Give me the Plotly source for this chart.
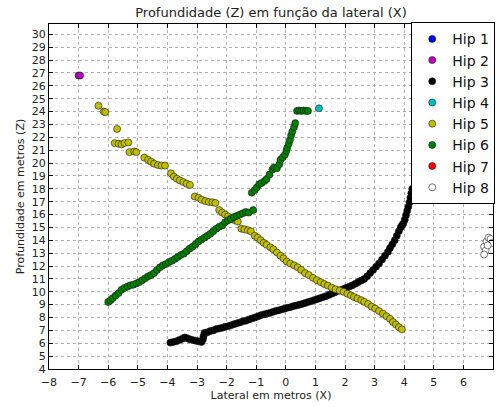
import plotly.graph_objects as go

# ---------------- data ----------------
hip1_x = [None]
hip1_y = [None]

hip2_x = [-7.00, -6.95]
hip2_y = [26.80, 26.80]

hip3_x = [-3.90, -3.80, -3.70, -3.60, -3.50, -3.42, -3.35, -3.25, -3.15, -3.05,
          -2.95, -2.85, -2.80, -2.78, -2.75, -2.65, -2.55, -2.45, -2.35, -2.25,
          -2.15, -2.05, -1.95, -1.85, -1.75, -1.65, -1.55, -1.45, -1.35, -1.25,
          -1.15, -1.05, -0.95, -0.85, -0.75, -0.65, -0.55, -0.45, -0.35, -0.25,
          -0.15, -0.05, 0.05, 0.15, 0.25, 0.35, 0.45, 0.55, 0.65, 0.75,
          0.85, 0.95, 1.05, 1.15, 1.25, 1.35, 1.45, 1.55, 1.65, 1.75,
          1.85, 1.95, 2.05, 2.15, 2.25, 2.35, 2.45, 2.55, 2.65, 2.75,
          2.85, 2.95, 3.05, 3.15, 3.25, 3.35, 3.45, 3.52, 3.60, 3.68,
          3.75, 3.82, 3.88, 3.92, 3.97, 4.02, 4.06, 4.10, 4.14, 4.18,
          4.21, 4.24, 4.27]
hip3_y = [6.05, 6.10, 6.15, 6.25, 6.35, 6.45, 6.40, 6.32, 6.25, 6.20,
          6.15, 6.10, 6.30, 6.55, 6.80, 6.85, 6.95, 7.00, 7.10, 7.15,
          7.20, 7.28, 7.33, 7.40, 7.48, 7.55, 7.62, 7.70, 7.75, 7.85,
          7.92, 8.00, 8.08, 8.17, 8.24, 8.30, 8.35, 8.42, 8.50, 8.55,
          8.62, 8.68, 8.75, 8.80, 8.88, 8.93, 9.00, 9.05, 9.12, 9.20,
          9.27, 9.35, 9.42, 9.50, 9.58, 9.66, 9.75, 9.85, 9.95, 10.05,
          10.12, 10.22, 10.32, 10.40, 10.50, 10.62, 10.75, 10.88, 11.00, 11.20,
          11.45, 11.70, 11.95, 12.20, 12.50, 12.80, 13.10, 13.40, 13.70, 14.00,
          14.35, 14.70, 15.00, 15.15, 15.30, 15.60, 15.95, 16.30, 16.60, 16.95,
          17.30, 17.65, 18.00]

hip4_x = [1.12]
hip4_y = [24.25]

hip5_x = [-6.33, -6.15, -6.10, -5.70, -5.78, -5.65, -5.55, -5.45, -5.32, -5.28,
          -5.12, -5.05, -4.78, -4.65, -4.55, -4.45, -4.32, -4.20, -4.08, -3.88,
          -3.78, -3.68, -3.58, -3.46, -3.35, -3.24, -3.08, -2.95, -2.85, -2.72,
          -2.60, -2.48, -2.38, -2.25, -2.15, -2.05, -1.95, -1.85, -1.72, -1.62,
          -1.50, -1.40, -1.28, -1.18, -1.05, -0.95, -0.85, -0.75, -0.65, -0.52,
          -0.42, -0.30, -0.18, -0.08, 0.03, 0.15, 0.28, 0.40, 0.52, 0.65,
          0.78, 0.92, 1.05, 1.18, 1.30, 1.42, 1.55, 1.68, 1.82, 1.95,
          2.08, 2.20, 2.30, 2.42, 2.55, 2.65, 2.78, 2.90, 3.02, 3.15,
          3.28, 3.40, 3.52, 3.62, 3.72, 3.82, 3.92]
hip5_y = [24.45, 24.00, 23.95, 22.65, 21.55, 21.50, 21.45, 21.55, 21.60, 20.85,
          20.90, 20.85, 20.42, 20.25, 20.10, 19.95, 19.85, 19.80, 19.80, 19.20,
          18.95, 18.78, 18.65, 18.52, 18.40, 18.30, 17.40, 17.30, 17.15, 17.05,
          16.98, 16.95, 16.90, 16.35, 16.15, 16.00, 15.85, 15.70, 15.55, 15.45,
          14.90, 14.85, 14.78, 14.70, 14.35, 14.20, 14.00, 13.80, 13.65, 13.45,
          13.30, 13.05, 12.80, 12.60, 12.35, 12.20, 12.05, 11.90, 11.70, 11.45,
          11.30, 11.08, 10.90, 10.75, 10.60, 10.48, 10.32, 10.20, 10.10, 10.00,
          9.85, 9.72, 9.60, 9.48, 9.35, 9.22, 9.05, 8.85, 8.70, 8.50,
          8.30, 8.10, 7.90, 7.65, 7.45, 7.25, 7.08]

hip6_x = [-6.00, -5.92, -5.85, -5.75, -5.65, -5.55, -5.45, -5.35, -5.25, -5.15,
          -5.05, -4.95, -4.85, -4.75, -4.65, -4.55, -4.45, -4.35, -4.25, -4.15,
          -4.05, -3.95, -3.85, -3.75, -3.65, -3.55, -3.45, -3.35, -3.25, -3.15,
          -3.05, -2.95, -2.85, -2.75, -2.65, -2.55, -2.45, -2.35, -2.25, -2.15,
          -2.05, -1.95, -1.85, -1.75, -1.65, -1.55, -1.45, -1.35, -1.25, -1.10,
          -1.15, -1.05, -0.98, -0.90, -0.82, -0.72, -0.65, -0.55, -0.45, -0.40,
          -0.30, -0.22, -0.18, -0.10, -0.03, 0.02, 0.05, 0.10, 0.14, 0.18,
          0.22, 0.28, 0.32, 0.38, 0.45, 0.52, 0.60, 0.68, 0.75]
hip6_y = [9.20, 9.35, 9.50, 9.70, 9.90, 10.15, 10.30, 10.40, 10.50, 10.55,
          10.65, 10.75, 10.90, 11.05, 11.20, 11.30, 11.45, 11.70, 11.90, 12.05,
          12.15, 12.30, 12.40, 12.55, 12.70, 12.85, 12.95, 13.15, 13.35, 13.50,
          13.70, 13.90, 14.05, 14.20, 14.35, 14.50, 14.70, 14.90, 15.05, 15.15,
          15.40, 15.55, 15.65, 15.80, 15.90, 16.00, 16.10, 16.20, 16.15, 16.35,
          17.70, 17.90, 18.10, 18.35, 18.45, 18.60, 18.75, 19.10, 19.50, 19.65,
          19.60, 19.90, 20.25, 20.45, 20.65, 20.95, 21.20, 21.50, 21.80, 22.15,
          22.45, 22.80, 23.10, 24.05, 24.08, 24.05, 24.08, 24.05, 24.05]

hip7_x = [None]
hip7_y = [None]

hip8_x = [6.70, 6.78, 6.85, 6.92, 6.98, 6.75, 6.82, 6.70]
hip8_y = [13.50, 13.90, 14.20, 14.10, 13.80, 13.20, 13.60, 12.90]

x_ticks = list(range(-8, 7))
y_ticks = list(range(4, 31))

# ---------------- figure ----------------
FONT = "DejaVu Sans"
series = [
    ("Hip 1", hip1_x, hip1_y, "#0000ff"),
    ("Hip 2", hip2_x, hip2_y, "#bf00bf"),
    ("Hip 3", hip3_x, hip3_y, "#000000"),
    ("Hip 4", hip4_x, hip4_y, "#00bfbf"),
    ("Hip 5", hip5_x, hip5_y, "#bfbf00"),
    ("Hip 6", hip6_x, hip6_y, "#008000"),
    ("Hip 7", hip7_x, hip7_y, "#ff0000"),
    ("Hip 8", hip8_x, hip8_y, "#ffffff"),
]

fig = go.Figure()
for name, xs, ys, col in series:
    fig.add_trace(go.Scatter(
        x=xs, y=ys, mode="markers", name=name, showlegend=True,
        marker=dict(color=col, size=7, symbol="circle",
                    line=dict(color="#1a1a1a", width=0.6)),
    ))

axis_common = dict(
    showgrid=True, gridcolor="#b0b0b0", griddash="dot", gridwidth=1,
    showline=True, linecolor="#000000", linewidth=1, mirror="ticks",
    ticks="inside", ticklen=4, tickcolor="#000000",
    zeroline=False,
    tickfont=dict(family=FONT, size=11, color="#222222"),
)

fig.update_xaxes(
    range=[-8, 7], tickvals=x_ticks, ticklabelstandoff=3,
    title=dict(text="Lateral em metros (X)", font=dict(family=FONT, size=11, color="#222222"), standoff=2),
    **axis_common,
)
fig.update_yaxes(
    range=[4, 30.8], tickvals=y_ticks,
    title=dict(text="Profundidade em metros (Z)", font=dict(family=FONT, size=11, color="#222222"), standoff=4),
    **axis_common,
)

fig.update_layout(
    width=503, height=407,
    margin=dict(l=49, r=8, t=24, b=33),
    paper_bgcolor="white", plot_bgcolor="white",
    title=dict(text="Profundidade (Z) em função da lateral (X)",
               font=dict(family=FONT, size=13, color="#222222"),
               x=0.5, xref="paper", xanchor="center",
               y=1 - 12 / 407, yref="container", yanchor="middle"),
    legend=dict(x=1.005, y=1.005, xanchor="right", yanchor="top",
                bgcolor="white", bordercolor="#000000", borderwidth=1,
                font=dict(family=FONT, size=14, color="#111111"),
                itemsizing="trace", tracegroupgap=0),
    showlegend=True,
)

fig.write_html("out.html")
